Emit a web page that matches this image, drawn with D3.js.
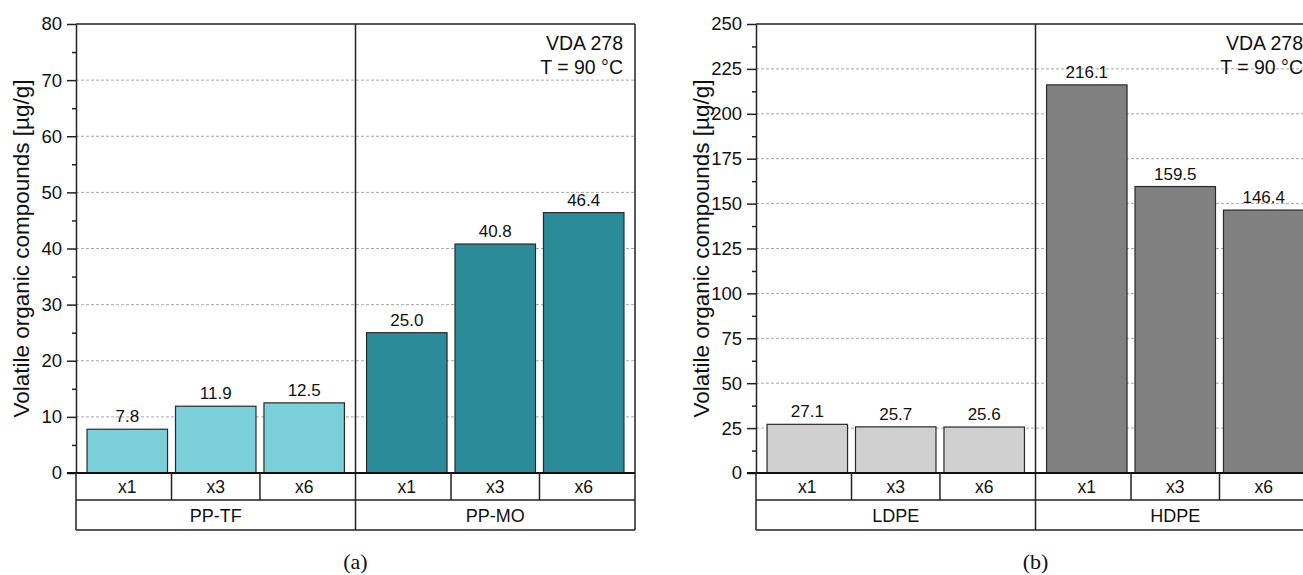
<!DOCTYPE html>
<html>
<head>
<meta charset="utf-8">
<script src="https://cdn.jsdelivr.net/npm/d3@7"></script>
<style>
  body { margin: 0; background: #fff; }
  svg { display: block; font-family: "Liberation Sans", Arial, sans-serif; }
</style>
</head>
<body>
<div id="chart"></div>
<script>
// data
var samples = ["x1", "x3", "x6"];

var groupsA = ["PP-TF", "PP-MO"];
var ppTF = [7.8, 11.9, 12.5];
var ppMO = [25.0, 40.8, 46.4];

var groupsB = ["LDPE", "HDPE"];
var ldpe = [27.1, 25.7, 25.6];
var hdpe = [216.1, 159.5, 146.4];

var ticksA = [0, 10, 20, 30, 40, 50, 60, 70, 80];
var ticksB = [0, 25, 50, 75, 100, 125, 150, 175, 200, 225, 250];

var yLabel = "Volatile organic compounds [µg/g]";
var note1 = "VDA 278", note2 = "T = 90 °C";

var W = 1303, H = 575;

var svg = d3.select("#chart").append("svg")
    .attr("width", W)
    .attr("height", H);

function panel(opt) {
  var g = svg.append("g");
  var left = opt.left, top = 24, bottom = 473, gw = 279.5;
  var right = left + gw * 2;

  var y = d3.scaleLinear().domain([0, opt.max]).range([bottom, top]);
  var xg = d3.scaleBand().domain(opt.groups).range([left, right]);
  var xs = d3.scaleBand().domain(samples).range([0, gw])
      .paddingInner(0.09).paddingOuter(0.125);

  // grid
  g.selectAll("line.grid")
    .data(opt.ticks.filter(function(d) { return d > 0 && d < opt.max; }))
    .enter().append("line")
    .attr("x1", left).attr("x2", right)
    .attr("y1", function(d) { return y(d); })
    .attr("y2", function(d) { return y(d); })
    .attr("stroke", "#a8a8a8")
    .attr("stroke-dasharray", "3,2")
    .attr("stroke-width", 1);

  // bars
  var bars = [];
  opt.groups.forEach(function(gr, i) {
    opt.values[i].forEach(function(v, j) {
      bars.push({group: gr, sample: samples[j], value: v, color: opt.colors[i]});
    });
  });

  g.selectAll("rect.bar").data(bars).enter().append("rect")
    .attr("x", function(d) { return xg(d.group) + xs(d.sample); })
    .attr("y", function(d) { return y(d.value); })
    .attr("width", xs.bandwidth())
    .attr("height", function(d) { return bottom - y(d.value); })
    .attr("fill", function(d) { return d.color; })
    .attr("stroke", "#2a2a2a")
    .attr("stroke-width", 1.2);

  g.selectAll("text.val").data(bars).enter().append("text")
    .attr("x", function(d) { return xg(d.group) + xs(d.sample) + xs.bandwidth() / 2; })
    .attr("y", function(d) { return y(d.value) - 7; })
    .attr("text-anchor", "middle")
    .attr("font-size", 17)
    .attr("fill", "#111")
    .text(function(d) { return d.value.toFixed(1); });

  // frame
  var ln = "#222";
  g.append("line").attr("x1", left).attr("x2", right).attr("y1", top).attr("y2", top)
    .attr("stroke", ln).attr("stroke-width", 1.5);
  g.append("line").attr("x1", right).attr("x2", right).attr("y1", top).attr("y2", bottom)
    .attr("stroke", ln).attr("stroke-width", 1.5);
  g.append("line").attr("x1", xg(opt.groups[1])).attr("x2", xg(opt.groups[1]))
    .attr("y1", top).attr("y2", 530)
    .attr("stroke", ln).attr("stroke-width", 1.5);

  // y axis
  var minor = [];
  for (var k = 0; k < opt.ticks.length - 1; k++) minor.push((opt.ticks[k] + opt.ticks[k + 1]) / 2);
  g.append("g")
    .attr("transform", "translate(" + left + ",0)")
    .call(d3.axisLeft(y).tickValues(minor).tickSize(4).tickFormat(""))
    .call(function(s) { s.select(".domain").remove(); s.selectAll("line").attr("stroke", ln).attr("stroke-width", 1.5); });
  var ax = g.append("g")
    .attr("transform", "translate(" + left + ",0)")
    .call(d3.axisLeft(y).tickValues(opt.ticks).tickSize(9).tickPadding(5).tickSizeOuter(0));
  ax.select(".domain").attr("stroke", ln).attr("stroke-width", 1.5);
  ax.selectAll("line").attr("stroke", ln).attr("stroke-width", 1.5);
  ax.selectAll("text").attr("font-size", 18.5).attr("fill", "#111")
    .attr("font-family", "Liberation Sans, Arial, sans-serif");

  // zero line
  g.append("line").attr("x1", left - 9).attr("x2", right).attr("y1", bottom).attr("y2", bottom)
    .attr("stroke", "#111").attr("stroke-width", 2.2);

  // category table
  var r1 = 500, r2 = 530;
  g.append("line").attr("x1", left).attr("x2", left).attr("y1", bottom).attr("y2", r2)
    .attr("stroke", ln).attr("stroke-width", 1.5);
  g.append("line").attr("x1", left).attr("x2", right).attr("y1", r1).attr("y2", r1)
    .attr("stroke", ln).attr("stroke-width", 1.5);
  g.append("line").attr("x1", left).attr("x2", right).attr("y1", r2).attr("y2", r2)
    .attr("stroke", ln).attr("stroke-width", 1.5);
  g.append("line").attr("x1", right).attr("x2", right).attr("y1", bottom).attr("y2", r2)
    .attr("stroke", ln).attr("stroke-width", 1.5);

  var cells = [];
  opt.groups.forEach(function(gr) {
    samples.forEach(function(s, j) {
      cells.push({group: gr, sample: s, j: j});
    });
  });
  var cx = function(d) { return xg(d.group) + xs(d.sample) + xs.bandwidth() / 2; };
  g.selectAll("line.cell").data(cells.filter(function(d) { return d.j > 0; }))
    .enter().append("line")
    .attr("x1", function(d) { return cx(d) - xs.step() / 2; })
    .attr("x2", function(d) { return cx(d) - xs.step() / 2; })
    .attr("y1", bottom).attr("y2", r1)
    .attr("stroke", ln).attr("stroke-width", 1.5);
  g.selectAll("text.cell").data(cells).enter().append("text")
    .attr("x", cx)
    .attr("y", 493)
    .attr("text-anchor", "middle")
    .attr("font-size", 17.5)
    .attr("fill", "#111")
    .text(function(d) { return d.sample; });
  g.selectAll("text.grp").data(opt.groups).enter().append("text")
    .attr("x", function(d) { return xg(d) + gw / 2; })
    .attr("y", 522)
    .attr("text-anchor", "middle")
    .attr("font-size", 18)
    .attr("fill", "#111")
    .text(function(d) { return d; });

  // notes
  g.append("text").attr("x", right - 12).attr("y", 50).attr("text-anchor", "end")
    .attr("font-size", 19.5).attr("fill", "#111").text(note1);
  g.append("text").attr("x", right - 12).attr("y", 74).attr("text-anchor", "end")
    .attr("font-size", 19.5).attr("fill", "#111").text(note2);

  // y label
  g.append("text")
    .attr("transform", "translate(" + (left - 47) + "," + ((top + bottom) / 2) + ") rotate(-90)")
    .attr("text-anchor", "middle")
    .attr("font-size", 22.5)
    .attr("fill", "#111")
    .text(yLabel);

  // panel caption
  svg.append("text")
    .attr("x", xg(opt.groups[1]))
    .attr("y", 569)
    .attr("text-anchor", "middle")
    .attr("font-family", "Liberation Serif, Times New Roman, serif")
    .attr("font-size", 22)
    .attr("fill", "#111")
    .text(opt.caption);
}

panel({left: 76, max: 80, ticks: ticksA, groups: groupsA, values: [ppTF, ppMO],
       colors: ["#7acfd9", "#2c8b98"], caption: "(a)"});
panel({left: 756, max: 250, ticks: ticksB, groups: groupsB, values: [ldpe, hdpe],
       colors: ["#d0d0d0", "#808080"], caption: "(b)"});
</script>
</body>
</html>
